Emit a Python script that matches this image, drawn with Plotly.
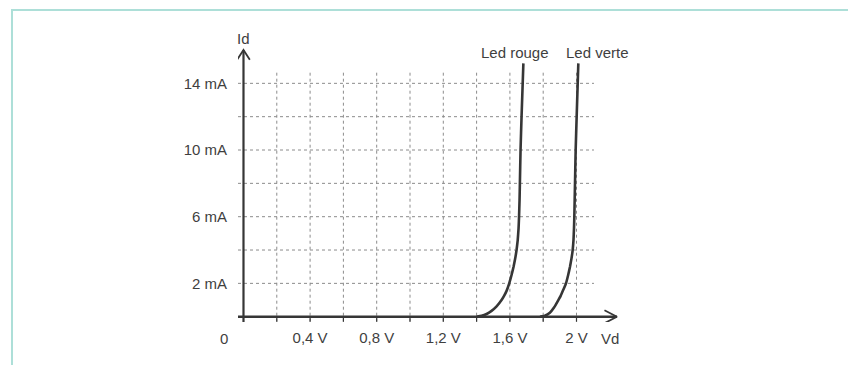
import plotly.graph_objects as go

# Forward characteristics of two LEDs (voltage in V, current in mA)
red_v = [1.40, 1.43, 1.46, 1.49, 1.52, 1.55, 1.565, 1.58, 1.596, 1.610, 1.622, 1.632, 1.640,
         1.647, 1.652, 1.655, 1.658, 1.660, 1.664, 1.670, 1.681]
red_i = [0.0, 0.05, 0.16, 0.35, 0.62, 1.0, 1.25, 1.55, 2.0, 2.5, 3.0, 3.5, 4.0,
         4.6, 5.3, 6.0, 7.0, 8.0, 10.0, 12.0, 15.2]
green_v = [1.781, 1.81, 1.84, 1.865, 1.891, 1.905, 1.92, 1.937, 1.950, 1.961, 1.970, 1.977,
           1.982, 1.985, 1.987, 1.989, 1.991, 1.995, 2.001, 2.011]
green_i = [0.0, 0.06, 0.24, 0.55, 1.0, 1.25, 1.6, 2.0, 2.5, 3.0, 3.5, 4.0,
           4.6, 5.3, 6.0, 7.0, 8.0, 10.0, 12.0, 15.2]

x_ticks = [0.4, 0.8, 1.2, 1.6, 2.0]
x_labels = ["0,4 V", "0,8 V", "1,2 V", "1,6 V", "2 V"]
y_ticks = [2, 6, 10, 14]
y_labels = ["2 mA", "6 mA", "10 mA", "14 mA"]
grid_v = [0.2, 0.4, 0.6, 0.8, 1.0, 1.2, 1.4, 1.6, 1.8, 2.0]
grid_i = [2, 4, 6, 8, 10, 12, 14]

INK = "#363636"
TEXT = "#3f3f3f"
GRID = "#8c8c8c"
FONT = "Liberation Sans, Arial, sans-serif"

X_MIN, X_MAX = -0.033, 2.2913
Y_MIN, Y_MAX = -0.318, 16.30

fig = go.Figure()

shapes = []
# dotted grid
for v in grid_v:
    shapes.append(dict(type="line", xref="x", yref="y", x0=v, x1=v, y0=-0.3, y1=14.7,
                       line=dict(color=GRID, width=1, dash="dot"), layer="below"))
    shapes.append(dict(type="line", xref="x", yref="y", x0=v, x1=v, y0=0, y1=-0.3,
                       line=dict(color=INK, width=1.2), layer="below"))
for i in grid_i:
    shapes.append(dict(type="line", xref="x", yref="y", x0=X_MIN, x1=2.105, y0=i, y1=i,
                       line=dict(color=GRID, width=1, dash="dot"), layer="below"))

# page frame
shapes.append(dict(type="rect", xref="paper", yref="paper", x0=-0.584, x1=2.0, y0=-1.0, y1=1.1264,
                   line=dict(color="#addfd8", width=2), fillcolor="rgba(0,0,0,0)", layer="below"))

# axes with open arrowheads
x_tip = 2.243
y_tip = 16.0
fig.add_trace(go.Scatter(x=[X_MIN, x_tip], y=[0, 0], mode="lines",
                         line=dict(color=INK, width=2.4), hoverinfo="skip", showlegend=False))
fig.add_trace(go.Scatter(x=[x_tip - 0.075, x_tip, x_tip - 0.075], y=[0.39, 0, -0.39], mode="lines",
                         line=dict(color=INK, width=1.8), hoverinfo="skip", showlegend=False))
fig.add_trace(go.Scatter(x=[0, 0], y=[Y_MIN, y_tip], mode="lines",
                         line=dict(color=INK, width=2.2), hoverinfo="skip", showlegend=False))
fig.add_trace(go.Scatter(x=[-0.038, 0, 0.038], y=[y_tip - 0.58, y_tip, y_tip - 0.58], mode="lines",
                         line=dict(color=INK, width=1.8), hoverinfo="skip", showlegend=False))

# LED curves
fig.add_trace(go.Scatter(x=red_v, y=red_i, mode="lines", name="Led rouge",
                         line=dict(color=INK, width=2.6, shape="spline", smoothing=0.4), showlegend=False))
fig.add_trace(go.Scatter(x=green_v, y=green_i, mode="lines", name="Led verte",
                         line=dict(color=INK, width=2.6, shape="spline", smoothing=0.4), showlegend=False))

annotations = [
    dict(x=1.631, y=15.86, text="Led rouge", xref="x", yref="y"),
    dict(x=2.127, y=15.86, text="Led verte", xref="x", yref="y"),
    dict(x=0.0, y=1.0217, text="Id", xref="x", yref="paper"),
    dict(x=2.2, y=-0.0578, text="Vd", xref="x", yref="paper"),
    dict(x=-0.0362, y=-0.0578, text="0", xref="paper", yref="paper"),
]
for a in annotations:
    a.update(showarrow=False, xanchor="center", yanchor="middle",
             font=dict(family=FONT, size=15, color=TEXT))

fig.update_layout(
    width=848, height=365, autosize=False,
    margin=dict(l=238, r=223, t=45, b=43),
    paper_bgcolor="white", plot_bgcolor="white",
    shapes=shapes, annotations=annotations,
    font=dict(family=FONT, size=15, color=TEXT),
    xaxis=dict(range=[X_MIN, X_MAX], showgrid=False, zeroline=False, showline=False,
               tickmode="array", tickvals=x_ticks, ticktext=x_labels,
               ticks="outside", ticklen=2, tickcolor="rgba(0,0,0,0)",
               tickfont=dict(family=FONT, size=15, color=TEXT)),
    yaxis=dict(range=[Y_MIN, Y_MAX], showgrid=False, zeroline=False, showline=False,
               tickmode="array", tickvals=y_ticks, ticktext=y_labels,
               ticks="outside", ticklen=7, tickcolor="rgba(0,0,0,0)",
               tickfont=dict(family=FONT, size=15, color=TEXT)),
)

fig.write_html("out.html")
